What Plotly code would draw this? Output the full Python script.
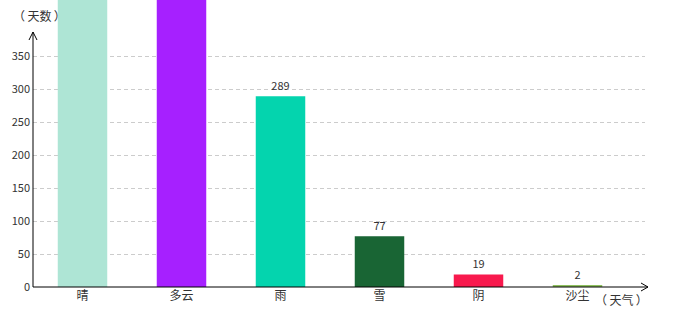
import plotly.graph_objects as go

# Data
categories = ["晴", "多云", "雨", "雪", "阴", "沙尘"]
days = [650, 520, 289, 77, 19, 2]
colors = ["#aee5d5", "#a620ff", "#04d4ae", "#196534", "#f8194d", "#8fc15f"]
y_ticks = [0, 50, 100, 150, 200, 250, 300, 350]

# Layout geometry (pixels)
W, H = 680, 320
left, right, top, bottom = 33, 35, 0, 33
plot_w = W - left - right
plot_h = H - top - bottom
px_per_unit = 231 / 350.0
y_max = plot_h / px_per_unit
cat_px = 99.0
x_max = -0.5 + plot_w / cat_px

labels = [str(v) if v < y_max - 12 else "" for v in days]

fig = go.Figure()
fig.add_trace(go.Bar(
    x=categories, y=days, width=0.5,
    marker=dict(color=colors, line=dict(width=0)),
    text=labels, textposition="outside", cliponaxis=True,
    textfont=dict(size=11, color="#333333"),
    hoverinfo="skip",
))

def px_x(p):
    return (p - left) / plot_w

def px_y(p):
    return (H - bottom - p) / plot_h

shapes = []
shapes.append(dict(type="line", xref="paper", yref="paper",
                   x0=px_x(33), x1=px_x(33), y0=px_y(287), y1=px_y(32),
                   line=dict(color="black", width=1)))
shapes.append(dict(type="line", xref="paper", yref="paper",
                   x0=px_x(33), x1=px_x(648), y0=px_y(287), y1=px_y(287),
                   line=dict(color="black", width=1)))
shapes.append(dict(type="path", xref="paper", yref="paper",
                   path=f"M{px_x(29)},{px_y(40)} L{px_x(33)},{px_y(32)} L{px_x(37)},{px_y(40)}",
                   line=dict(color="black", width=1)))
shapes.append(dict(type="path", xref="paper", yref="paper",
                   path=f"M{px_x(641)},{px_y(283)} L{px_x(648)},{px_y(287)} L{px_x(641)},{px_y(291)}",
                   line=dict(color="black", width=1)))

annotations = [
    dict(text="（\u2009天数\u2009）", xref="paper", yref="paper", x=px_x(39), y=px_y(15),
         showarrow=False, font=dict(size=12, color="#333333"), xanchor="center", yanchor="middle"),
    dict(text="（\u2009天气\u2009）", xref="paper", yref="paper", x=px_x(621), y=px_y(299),
         showarrow=False, font=dict(size=12, color="#333333"), xanchor="center", yanchor="middle"),
]

fig.update_layout(
    width=W, height=H,
    margin=dict(l=left, r=right, t=top, b=bottom, pad=0),
    paper_bgcolor="white", plot_bgcolor="white",
    font=dict(family="Noto Sans CJK SC", size=12, color="#333333"),
    showlegend=False,
    shapes=shapes, annotations=annotations,
    xaxis=dict(range=[-0.5, x_max], showgrid=False, showline=False, zeroline=False,
               ticks="", tickfont=dict(size=12, color="#333333"), fixedrange=True),
    yaxis=dict(range=[0, y_max], tickvals=y_ticks, showgrid=True, gridcolor="#cccccc",
               griddash="4px,3px", gridwidth=1, zeroline=False, showline=False, ticks="",
               tickfont=dict(size=11, color="#333333"), ticklabelstandoff=2, fixedrange=True),
)

fig.write_html("out.html", config={"displayModeBar": False})
